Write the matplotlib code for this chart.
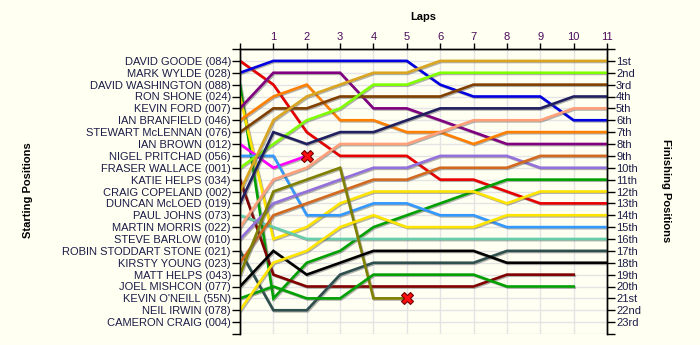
import matplotlib
matplotlib.use('Agg')
import matplotlib.pyplot as plt
import matplotlib.patheffects as pe

plt.rcParams['font.family'] = ['Liberation Sans', 'DejaVu Sans']

# grid order
drivers = [
    "DAVID GOODE (084)", "MARK WYLDE (028)", "DAVID WASHINGTON (088)",
    "RON SHONE (024)", "KEVIN FORD (007)", "IAN BRANFIELD (046)",
    "STEWART McLENNAN (076)", "IAN BROWN (012)", "NIGEL PRITCHAD (056)",
    "FRASER WALLACE (001)", "KATIE HELPS (034)", "CRAIG COPELAND (002)",
    "DUNCAN McLOED (019)", "PAUL JOHNS (073)", "MARTIN MORRIS (022)",
    "STEVE BARLOW (010)", "ROBIN STODDART STONE (021)", "KIRSTY YOUNG (023)",
    "MATT HELPS (043)", "JOEL MISHCON (077)", "KEVIN O'NEILL (55N)",
    "NEIL IRWIN (078)", "CAMERON CRAIG (004)",
]
finish_labels = ["1st", "2nd", "3rd"] + ["%dth" % i for i in range(4, 21)] + ["21st", "22nd", "23rd"]
laps = list(range(12))

# running position at the end of each lap, lap 0 = grid slot
goode      = [1, 3, 7, 9, 9, 9, 11, 11, 12, 13, 13, 13]
wylde      = [2, 1, 1, 1, 1, 1, 3, 4, 4, 4, 6, 6]
washington = [3, 21, 18, 17, 15, 14, 13, 12, 11, 11, 11, 11]
shone      = [4, 16, 15, 13, 12, 12, 12, 12, 13, 12, 12, 12]
ford       = [5, 2, 2, 2, 5, 5, 6, 7, 8, 8, 8, 8]
branfield  = [6, 4, 3, 6, 6, 7, 7, 8, 7, 7, 7, 7]
mclennan   = [7, 5, 5, 4, 4, 4, 4, 3, 3, 3, 3, 3]
brown      = [8, 10, 9]
pritchad   = [9, 9, 14, 14, 13, 13, 14, 14, 15, 15, 15, 15]
wallace    = [10, 8, 6, 5, 3, 3, 2, 2, 2, 2, 2, 2]
k_helps    = [11, 19, 20, 20, 20, 20, 20, 20, 19, 19, 19]
copeland   = [12, 6, 4, 3, 2, 2, 1, 1, 1, 1, 1, 1]
mcloed     = [13, 7, 8, 7, 7, 6, 5, 5, 5, 5, 4, 4]
johns      = [14, 15, 16, 16, 16, 16, 16, 16, 16, 16, 16, 16]
morris     = [15, 11, 10, 8, 8, 8, 7, 6, 6, 6, 5, 5]
barlow     = [16, 13, 12, 11, 10, 10, 9, 9, 9, 10, 10, 10]
stone      = [17, 22, 22, 19, 18, 18, 18, 18, 17, 17, 17, 17]
young      = [18, 14, 13, 12, 11, 11, 10, 10, 10, 9, 9, 9]
m_helps    = [19, 12, 11, 10, 21, 21]
mishcon    = [20, 17, 19, 18, 17, 17, 17, 17, 18, 18, 18, 18]
oneill     = [21, 20, 21, 21, 19, 19, 19, 19, 20, 20, 20]
irwin      = [22, 18, 17, 15, 14, 15, 15, 15, 14, 14, 14, 14]

series = [goode, wylde, washington, shone, ford, branfield, mclennan, brown,
          pritchad, wallace, k_helps, copeland, mcloed, johns, morris, barlow,
          stone, young, m_helps, mishcon, oneill, irwin]
colours = ['#E80000', '#0000E0', '#00A000', '#FFE400', '#800080', '#FF8000',
           '#804000', '#FF00FF', '#3399FF', '#80FF00', '#800000', '#DAA520',
           '#202060', '#66CDAA', '#FFA07A', '#9370DB', '#2F4F4F', '#D2691E',
           '#808000', '#000000', '#00A000', '#FFE400']
retired = [brown, m_helps]

bg = '#FFFFF2'
fig = plt.figure(figsize=(7, 3.45), dpi=100, facecolor=bg)
ax = fig.add_axes([240 / 700, 11 / 345, 367 / 700, 285 / 345])
ax.set_facecolor(bg)

shadow = [pe.SimpleLineShadow(offset=(0.8, -0.8), shadow_color='#555555', alpha=0.45), pe.Normal()]
for pos, col in zip(series, colours):
    ax.plot(laps[:len(pos)], pos, color=col, lw=1.9, solid_joinstyle='miter',
            path_effects=shadow, zorder=3)
for pos in retired:
    ax.plot(len(pos) - 1, pos[-1], marker='X', ms=8, mfc='#FF1010', mec='#700000',
            mew=0.8, zorder=5)

ax.set_xlim(0, 11)
ax.set_ylim(24, 0)
ax.set_xticks(laps)
ax.set_xticklabels([''] + [str(l) for l in laps[1:]])
ax.xaxis.tick_top()
ax.set_yticks(range(25))
ax.set_yticklabels([''] + drivers + [''])
ax.grid(True, color='#E4E4E4', lw=1, zorder=0)
ax.set_axisbelow(True)

ax2 = ax.twinx()
ax2.set_ylim(24, 0)
ax2.set_yticks(range(25))
ax2.set_yticklabels([''] + finish_labels + [''])

for a in (ax, ax2):
    a.spines['bottom'].set_visible(False)
    for s in ('top', 'left', 'right'):
        a.spines[s].set_linewidth(1)
ax.tick_params(axis='y', length=5.5, width=1, labelsize=8, labelcolor='#1C1C48', pad=1)
ax2.tick_params(axis='y', length=5.5, width=1, labelsize=8, labelcolor='#1C1C48', pad=1)
ax.tick_params(axis='x', length=4, width=1, labelsize=8, labelcolor='#4A0A5A', pad=1)

fig.text(0.604, 1 - 17 / 345, 'Laps', ha='center', va='center', fontsize=8, fontweight='bold')
fig.text(28 / 700, 1 - 190 / 345, 'Starting Positions', rotation=90, ha='center', va='center',
         fontsize=8, fontweight='bold')
fig.text(666 / 700, 1 - 191 / 345, 'Finishing Positions', rotation=270, ha='center', va='center',
         fontsize=8, fontweight='bold')

fig.savefig('out.png', dpi=100, facecolor=bg)
